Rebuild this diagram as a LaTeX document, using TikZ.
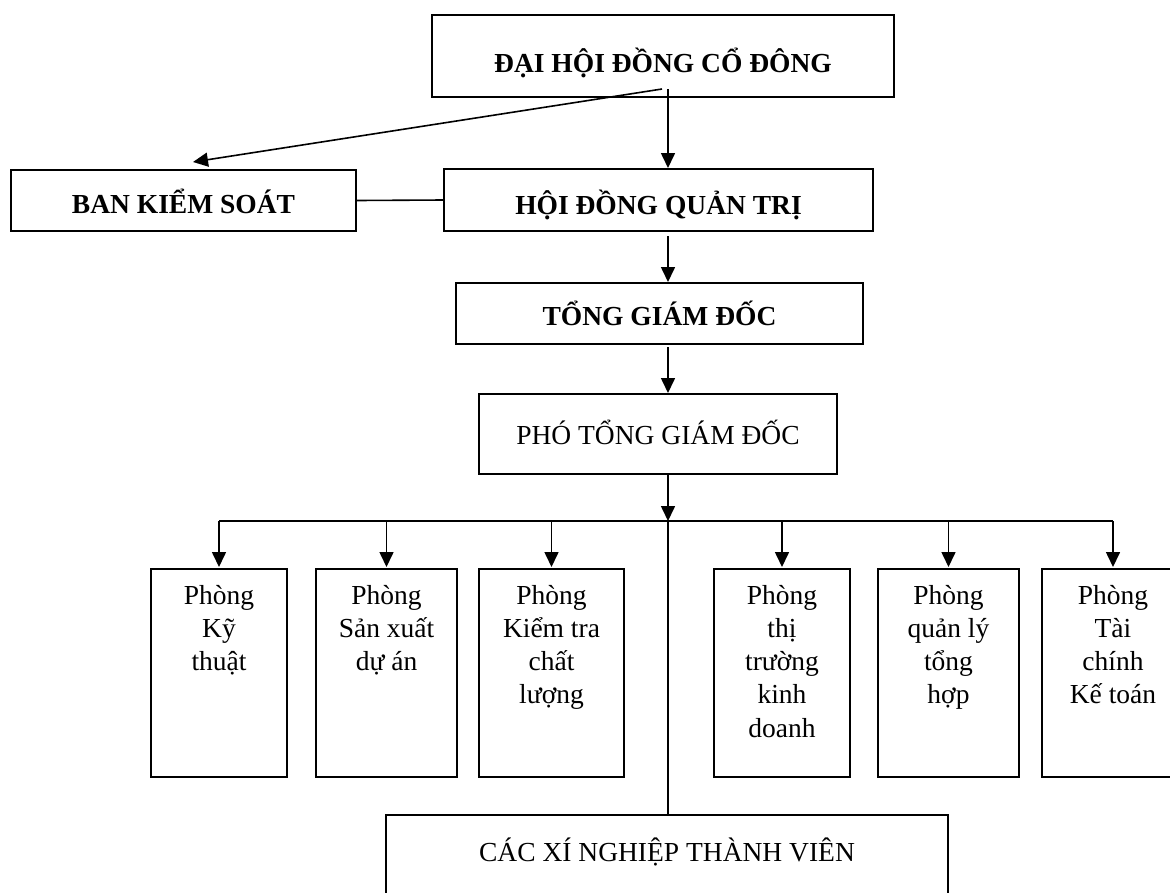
\documentclass[tikz,border=0pt]{standalone}
\usepackage{fontspec}
\setmainfont{Liberation Serif}
\usetikzlibrary{arrows.meta}
\tikzset{
  box/.style={draw, line width=2pt, inner sep=0pt, anchor=north, align=center,
    font=\fontsize{27.5}{33.3}\selectfont},
  head/.style={box, font=\fontsize{27.5}{33.3}\selectfont\bfseries},
  % the last line sits on the baseline, so the height grows with the lines
  dept/.style={box},
  three/.style={text height=101.6pt, text depth=106.4pt},
  four/.style={text height=134.9pt, text depth=73.1pt},
  five/.style={text height=168.2pt, text depth=39.8pt},
  link/.style={line width=1.6pt},
  arr/.style={link, -{Triangle[length=15pt,width=14pt]}}
}

\begin{document}
\begin{tikzpicture}[x=1pt, y=-1pt]
    \clip (0,0) rectangle (1170,892);

    % coordinates to be reused
    \coordinate (spine) at (668,0);
    \coordinate (bus) at (668,521);
    \coordinate (busL) at (219,521);
    \coordinate (busR) at (1113,521);
    \coordinate (bksin) at (193,162);

    % management boxes
    \node [head, minimum width=462pt, text height=57pt, text depth=25pt] (dhdcd) at (663,14) {ĐẠI HỘI ĐỒNG CỔ ĐÔNG};
    \node [head, minimum width=345pt, text height=43pt, text depth=18pt] (bks) at (183.5,169) {BAN KIỂM SOÁT};
    \node [head, minimum width=429pt, text height=45pt, text depth=17pt] (hdqt) at (658.5,168) {HỘI ĐỒNG QUẢN TRỊ};
    \node [head, minimum width=407pt, text height=42pt, text depth=19pt] (tgd) at (659.5,282) {TỔNG GIÁM ĐỐC};
    \node [box, minimum width=358pt, text height=50pt, text depth=30pt] (ptgd) at (658,393) {PHÓ TỔNG GIÁM ĐỐC};

    % departments
    \node [dept, three, minimum width=136pt] (kt) at (219,568) {Phòng\\Kỹ\\thuật};
    \node [dept, three, minimum width=141pt] (sx) at (386.5,568) {Phòng\\Sản xuất\\dự án};
    \node [dept, four, minimum width=145pt] (kcl) at (551.5,568) {Phòng\\Kiểm tra\\chất\\lượng};
    \node [dept, five, minimum width=136pt] (tt) at (782,568) {Phòng\\thị\\trường\\kinh\\doanh};
    \node [dept, four, minimum width=141pt] (ql) at (948.5,568) {Phòng\\quản lý\\tổng\\hợp};
    \node [dept, four, minimum width=142pt] (tc) at (1113,568) {Phòng\\Tài\\chính\\Kế toán};

    \node [box, minimum width=562pt, text height=46pt, text depth=40pt] (cxn) at (667,814) {CÁC XÍ NGHIỆP THÀNH VIÊN};

    % connectors
    \path (dhdcd.south -| spine) ++(0,-9) coordinate (dout);
    \draw [arr] ([xshift=-6pt]dout) -- (bksin);
    \draw [arr] (dout) -- (hdqt.north -| spine);
    \draw [link] (bks.east) -- (hdqt.west);
    \draw [arr] (hdqt.south -| spine) ++(0,4) -- (tgd.north -| spine);
    \draw [arr] (tgd.south -| spine) ++(0,2) -- (ptgd.north -| spine);
    \draw [arr] (ptgd.south -| spine) -- (bus);
    \draw [link] (busL) -- (busR);
    \draw [link] (bus) -- (cxn.north -| spine);
    \foreach \d in {kt,sx,kcl,tt,ql,tc}
        \draw [arr] (\d.north |- bus) -- ([yshift=1pt]\d.north);
\end{tikzpicture}
\end{document}
